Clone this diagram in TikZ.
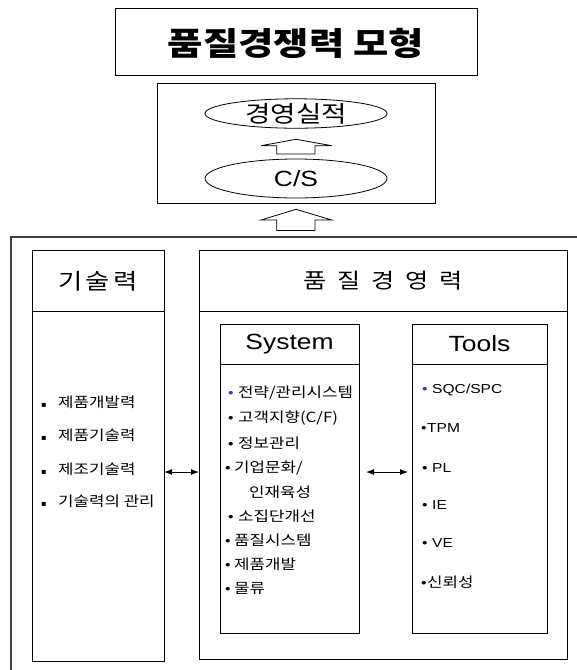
\documentclass[tikz,border=0pt]{standalone}
\usepackage{fontspec}
\setmainfont{Noto Sans CJK KR}[FakeStretch=1.2]
\newfontfamily\lat{Liberation Sans}[FakeStretch=1.2]
\newfontfamily\sym{DejaVu Sans}
\usetikzlibrary{shapes.geometric,arrows.meta}
\definecolor{bulblue}{RGB}{50,50,210}
\newcommand{\sqb}{\makebox[17pt][l]{\sym\fontsize{8}{8}\selectfont ▪}}
\newcommand{\bs}{\makebox[10pt][l]{\lat\fontsize{13}{15}\selectfont •}}
\newcommand{\bn}{\makebox[9pt][l]{\lat\fontsize{13}{15}\selectfont •}}
\newcommand{\bb}{\makebox[10pt][l]{\lat\fontsize{13}{15}\selectfont\color{bulblue}•}}
\tikzset{
  box/.style={draw, line width=1pt, rectangle, inner sep=0pt, outer sep=0pt},
  oval/.style={draw, line width=0.8pt, ellipse, inner sep=0pt, outer sep=0pt, minimum width=182pt},
  item/.style={anchor=west, inner sep=0pt, font=\fontsize{14}{16}\selectfont},
  litem/.style={anchor=west, inner sep=0pt, font=\lat\fontsize{13}{15}\selectfont},
  hdr/.style={inner sep=0pt, font=\fontsize{22}{24}\selectfont},
  lhdr/.style={inner sep=0pt, font=\lat\fontsize{22}{24}\selectfont},
  blockarrow/.style={draw, line width=0.8pt, fill=white},
  dbl/.style={line width=1pt, {Latex[length=8pt,width=6pt]}-{Latex[length=8pt,width=6pt]}}
}
\begin{document}
\begin{tikzpicture}[x=1pt,y=-1pt]
\useasboundingbox (0,0) rectangle (577,670);
\fill[white] (0,0) rectangle (577,670);

% outer frame (cut at right and bottom)
\draw[line width=1.2pt, black!75] (577,237) -- (11,237) -- (11,670);

% title
\node[box, minimum width=362pt, minimum height=67pt] (title) at (296,41.5) {};
\node[inner sep=0pt, font=\fontsize{32}{36}\selectfont\bfseries] (titletext) at (296,43) {품질경쟁력 모형};

% performance box
\node[box, minimum width=278pt, minimum height=120pt] (perf) at (296,143) {};
\node[oval, minimum height=27pt, font=\fontsize{23}{26}\selectfont] (res) at (296,113.5) {경영실적};
\node[oval, minimum height=39pt, font=\lat\fontsize{22}{24}\selectfont] (cs) at (296,178.5) {C/S};

% block arrows
\draw[blockarrow] (296,139.3) -- (331.7,145.7) -- (315,145.7) -- (315,154) -- (276.7,154) -- (276.7,145.7) -- (261,145.7) -- cycle;
\draw[blockarrow] (296,209.3) -- (331.7,220) -- (315,220) -- (315,230.5) -- (276.7,230.5) -- (276.7,220) -- (261,220) -- cycle;

% technology box
\node[box, minimum width=132pt, minimum height=411pt] (tech) at (98,455.5) {};
\draw[line width=1pt] (tech.west |- 0,311) -- (tech.east |- 0,311);
\node[hdr] (techh) at (98,281) {기\hspace{3pt}술\hspace{3pt}력};
\node[item] (t1) at (41,402) {\sqb 제품개발력};
\node[item] (t2) at (41,435) {\sqb 제품기술력};
\node[item] (t3) at (41,469) {\sqb 제조기술력};
\node[item] (t4) at (41,501) {\sqb 기술력의 관리};

% quality management box
\node[box, minimum width=368pt, minimum height=409pt] (qm) at (383,454.5) {};
\draw[line width=1pt] (qm.west |- 0,311) -- (qm.east |- 0,311);
\node[hdr, font=\fontsize{21}{24}\selectfont] (qmh) at (383,281) {품\hspace{11pt}질\hspace{11pt}경\hspace{11pt}영\hspace{11pt}력};

% system box
\node[box, minimum width=139pt, minimum height=309pt] (sys) at (289.5,478.5) {};
\draw[line width=1pt] (sys.west |- 0,364) -- (sys.east |- 0,364);
\node[lhdr] (sysh) at (289.5,344) {System};
\node[item] (s1) at (228,393) {\bb 전략/관리시스템};
\node[item] (s2) at (228,418) {\bs 고객지향(C/F)};
\node[item] (s3) at (228,443) {\bs 정보관리};
\node[item] (s4) at (225,468) {\bn 기업문화/};
\node[item] (s5) at (249,492) {인재육성};
\node[item] (s6) at (228,516) {\bs 소집단개선};
\node[item] (s7) at (225,540) {\bn 품질시스템};
\node[item] (s8) at (225,564) {\bn 제품개발};
\node[item] (s9) at (225,588) {\bn 물류};

% tools box
\node[box, minimum width=135pt, minimum height=309pt] (tools) at (479.5,478.5) {};
\draw[line width=1pt] (tools.west |- 0,364) -- (tools.east |- 0,364);
\node[lhdr] (toolsh) at (479.5,344) {Tools};
\node[litem] (o1) at (422,390) {\bb SQC/SPC};
\node[litem] (o2) at (421,428) {\makebox[6pt][l]{•}TPM};
\node[litem] (o3) at (422,468) {\bs PL};
\node[litem] (o4) at (422,505) {\bs IE};
\node[litem] (o5) at (422,543) {\bs VE};
\node[item] (o6) at (421,582) {\makebox[6pt][l]{\lat\fontsize{13}{15}\selectfont •}신뢰성};

% double arrows
\coordinate (yline) at (0,472);
\draw[dbl] (tech.east |- yline) -- (qm.west |- yline);
\draw[dbl] ([xshift=7pt]sys.east |- yline) -- ([xshift=-4pt]tools.west |- yline);
\end{tikzpicture}
\end{document}
